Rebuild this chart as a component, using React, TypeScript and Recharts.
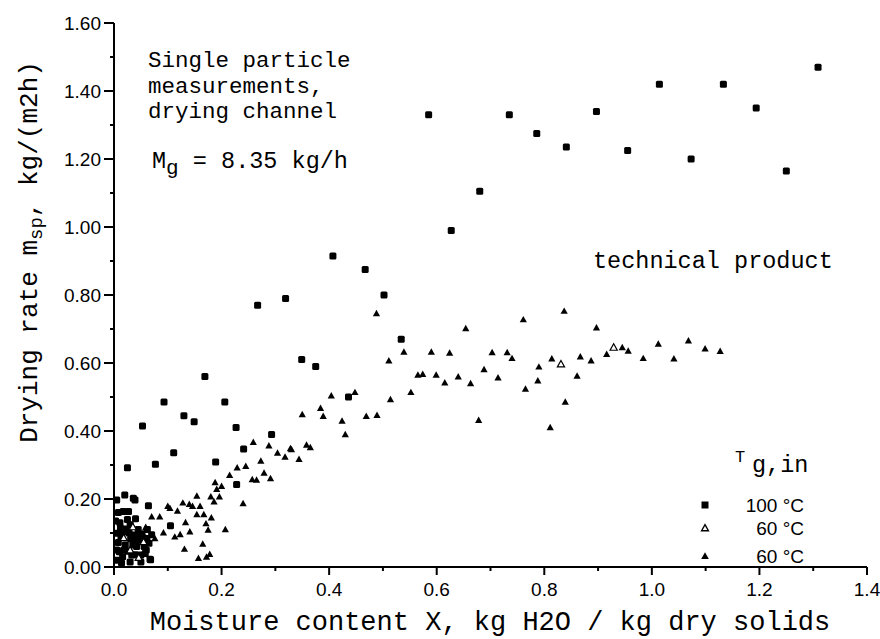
import { Scatter, ScatterChart, XAxis, YAxis } from "recharts";

// tick positions (labels only on the even ones)
const xTicks = [0, 0.1, 0.2, 0.3, 0.4, 0.5, 0.6, 0.7, 0.8, 0.9, 1.0, 1.1, 1.2, 1.3, 1.4];
const yTicks = [0, 0.1, 0.2, 0.3, 0.4, 0.5, 0.6, 0.7, 0.8, 0.9, 1.0, 1.1, 1.2, 1.3, 1.4, 1.5, 1.6];

// T g,in = 100 °C (filled squares)
const hot100: [number, number][] = [
  [0.585, 1.33], [0.627, 0.99], [0.68, 1.105], [0.735, 1.33], [0.786, 1.275],
  [0.841, 1.235], [0.897, 1.34], [0.955, 1.225], [1.014, 1.42], [1.073, 1.2],
  [1.133, 1.42], [1.194, 1.35], [1.25, 1.165], [1.309, 1.47],
  [0.407, 0.915], [0.467, 0.875], [0.502, 0.8], [0.534, 0.67], [0.319, 0.79],
  [0.267, 0.77], [0.349, 0.61], [0.375, 0.59], [0.169, 0.56], [0.093, 0.485],
  [0.206, 0.485], [0.13, 0.445], [0.149, 0.427], [0.053, 0.415], [0.227, 0.41],
  [0.293, 0.39], [0.436, 0.5], [0.241, 0.347], [0.111, 0.336], [0.025, 0.292],
  [0.077, 0.302], [0.189, 0.309], [0.228, 0.243], [0.064, 0.18], [0.105, 0.121],
  [0.068, 0.021],
  // dense cluster near the origin
  [0.02, 0.212], [0.036, 0.202], [0.005, 0.197], [0.039, 0.197], [0.017, 0.163],
  [0.027, 0.163], [0.011, 0.13], [0.03, 0.124], [0.005, 0.099], [0.017, 0.104],
  [0.048, 0.079], [0.061, 0.084], [0.042, 0.06], [0.067, 0.023], [0.005, 0.02],
  [0.01, 0.045], [0.016, 0.03], [0.021, 0.065], [0.026, 0.046], [0.031, 0.082],
  [0.036, 0.094], [0.04, 0.036], [0.008, 0.072], [0.013, 0.088], [0.022, 0.112],
  [0.045, 0.11], [0.052, 0.098], [0.056, 0.06], [0.03, 0.015], [0.05, 0.035],
  [0.06, 0.05], [0.014, 0.012], [0.04, 0.142], [0.008, 0.16], [0.025, 0.14],
  [0.005, 0.05], [0.045, 0.09], [0.055, 0.085], [0.035, 0.065], [0.028, 0.1],
  [0.018, 0.05], [0.05, 0.015], [0.058, 0.04], [0.065, 0.07], [0.07, 0.095],
  [0.04, 0.075], [0.012, 0.115], [0.003, 0.135], [0.062, 0.11], [0.033, 0.035],
];

// T g,in = 60 °C (open triangles)
const warm60open: [number, number][] = [
  [0.03, 0.05], [0.046, 0.028], [0.055, 0.074], [0.018, 0.086], [0.035, 0.118],
  [0.831, 0.597], [0.929, 0.646],
];

// T g,in = 60 °C (filled triangles)
const warm60: [number, number][] = [
  [0.488, 0.746], [0.654, 0.702], [0.761, 0.728], [0.837, 0.753], [0.897, 0.704],
  [0.539, 0.633], [0.59, 0.633], [0.624, 0.63], [0.703, 0.631], [0.731, 0.631],
  [0.74, 0.614], [0.511, 0.607], [0.688, 0.581], [0.565, 0.565], [0.574, 0.567],
  [0.599, 0.565], [0.64, 0.56], [0.714, 0.557], [0.788, 0.548], [0.615, 0.542],
  [0.663, 0.54], [0.765, 0.524], [0.448, 0.514], [0.404, 0.504], [0.552, 0.514],
  [0.514, 0.493], [0.384, 0.467], [0.35, 0.449], [0.389, 0.444], [0.424, 0.43],
  [0.469, 0.444], [0.489, 0.447], [0.678, 0.432], [0.79, 0.589], [0.814, 0.613],
  [0.867, 0.619], [0.887, 0.607], [0.916, 0.626], [0.945, 0.646], [0.956, 0.636],
  [0.984, 0.614], [1.012, 0.656], [1.041, 0.613], [1.068, 0.666], [1.099, 0.642],
  [1.127, 0.635], [0.861, 0.562], [0.839, 0.486], [0.811, 0.411], [0.43, 0.39],
  [0.259, 0.367], [0.288, 0.357], [0.328, 0.349], [0.358, 0.359], [0.365, 0.352],
  [0.304, 0.336], [0.318, 0.324], [0.33, 0.346], [0.344, 0.317], [0.273, 0.312],
  [0.245, 0.297], [0.229, 0.292], [0.215, 0.27], [0.257, 0.258], [0.265, 0.256],
  [0.279, 0.277], [0.291, 0.261], [0.188, 0.249], [0.191, 0.229], [0.2, 0.238],
  [0.18, 0.207], [0.186, 0.192], [0.196, 0.207], [0.154, 0.209], [0.16, 0.179],
  [0.24, 0.187], [0.207, 0.111], [0.128, 0.189], [0.14, 0.185], [0.146, 0.179],
  [0.1, 0.179], [0.104, 0.173], [0.118, 0.165], [0.07, 0.148], [0.085, 0.148],
  [0.154, 0.155], [0.167, 0.155], [0.181, 0.145], [0.133, 0.131], [0.171, 0.128],
  [0.059, 0.117], [0.175, 0.109], [0.092, 0.101], [0.123, 0.096], [0.141, 0.104],
  [0.076, 0.084], [0.113, 0.089], [0.131, 0.053], [0.165, 0.068], [0.157, 0.026],
  [0.172, 0.03], [0.178, 0.038],
];

const toPts = (arr: [number, number][]) => arr.map(([x, y]) => ({ x, y }));

const INK = "#000";
const SANS = "'Liberation Sans', Arial, sans-serif";
const MONO = "'Liberation Mono', 'Courier New', monospace";

const isMajor = (v: number) => Math.round(v * 10) % 2 === 0;

function SquareDot(p: any) {
  const { cx, cy } = p;
  return <rect x={cx - 3.5} y={cy - 3.5} width={7} height={7} rx={1.5} fill={INK} />;
}

function triPath(cx: number, cy: number, s: number) {
  return `M${cx},${cy - s} L${cx + s},${cy + s * 0.8} L${cx - s},${cy + s * 0.8} Z`;
}

function TriDot(p: any) {
  return <path d={triPath(p.cx, p.cy, 3.6)} fill={INK} />;
}

function OpenTriDot(p: any) {
  return <path d={triPath(p.cx, p.cy, 3.6)} fill="#fff" stroke={INK} strokeWidth={1.2} />;
}

function LeftTick({ x, y, payload }: any) {
  const major = isMajor(payload.value);
  return (
    <g>
      <line x1={x - (major ? 10 : 4)} x2={x} y1={y} y2={y} stroke={INK} strokeWidth={2} />
      {major && (
        <text x={x - 13} y={y} dy={6.5} textAnchor="end" fontSize={19} fontFamily={SANS} fill={INK}>
          {payload.value.toFixed(2)}
        </text>
      )}
    </g>
  );
}

function BottomTick({ x, y, payload }: any) {
  const major = isMajor(payload.value);
  return (
    <g>
      <line x1={x} x2={x} y1={y} y2={y + (major ? 8 : 4)} stroke={INK} strokeWidth={2} />
      {major && (
        <text x={x} y={y + 29} textAnchor="middle" fontSize={19} fontFamily={SANS} fill={INK}>
          {payload.value.toFixed(1)}
        </text>
      )}
    </g>
  );
}

function TopTick({ x, y, payload }: any) {
  const major = isMajor(payload.value);
  return <line x1={x} x2={x} y1={y} y2={y + (major ? 8 : 4)} stroke={INK} strokeWidth={2} />;
}

function RightTick({ x, y, payload }: any) {
  const major = isMajor(payload.value);
  return <line x1={x - (major ? 8 : 4)} x2={x} y1={y} y2={y} stroke={INK} strokeWidth={2} />;
}

export default function App() {
  const axisLine = { stroke: INK, strokeWidth: 2 };
  return (
    <div style={{ position: "absolute", left: 0, top: 0, width: 880, height: 639, background: "#fff" }}>
      <ScatterChart width={880} height={639} margin={{ top: 23, right: 13, bottom: 0, left: 0 }}>
        <XAxis
          xAxisId={0}
          type="number"
          dataKey="x"
          domain={[0, 1.4]}
          ticks={xTicks}
          interval={0}
          height={72}
          tickSize={0}
          tickMargin={0}
          tickLine={false}
          axisLine={axisLine}
          tick={<BottomTick />}
          allowDataOverflow
        />
        <XAxis
          xAxisId="top"
          orientation="top"
          type="number"
          domain={[0, 1.4]}
          ticks={xTicks}
          interval={0}
          height={0}
          tickSize={0}
          tickMargin={0}
          tickLine={false}
          axisLine={axisLine}
          tick={<TopTick />}
          allowDataOverflow
        />
        <YAxis
          yAxisId={0}
          type="number"
          dataKey="y"
          domain={[0, 1.6]}
          ticks={yTicks}
          interval={0}
          width={114}
          tickSize={0}
          tickMargin={0}
          tickLine={false}
          axisLine={axisLine}
          tick={<LeftTick />}
          allowDataOverflow
        />
        <YAxis
          yAxisId="right"
          orientation="right"
          type="number"
          domain={[0, 1.6]}
          ticks={yTicks}
          interval={0}
          width={0}
          tickSize={0}
          tickMargin={0}
          tickLine={false}
          axisLine={axisLine}
          tick={<RightTick />}
          allowDataOverflow
        />
        <Scatter data={toPts(warm60)} shape={TriDot} isAnimationActive={false} />
        <Scatter data={toPts(hot100)} shape={SquareDot} isAnimationActive={false} />
        <Scatter data={toPts(warm60open)} shape={OpenTriDot} isAnimationActive={false} />
      </ScatterChart>

      <svg
        width={880}
        height={639}
        style={{ position: "absolute", left: 0, top: 0, pointerEvents: "none" }}
      >
        <g fontFamily={MONO} fontSize={22.5} fill={INK}>
          <text x={148} y={67}>Single particle</text>
          <text x={148} y={92.5}>measurements,</text>
          <text x={148} y={118}>drying channel</text>
        </g>
        <g fontFamily={MONO} fontSize={23.5} fill={INK}>
          <text x={152} y={168}>
            M<tspan dy={6} fontSize={21}>g</tspan>
            <tspan dy={-6}> = 8.35 kg/h</tspan>
          </text>
          <text x={593} y={268}>technical product</text>
        </g>

        {/* axis titles */}
        <text x={490} y={630} textAnchor="middle" fontFamily={MONO} fontSize={27} fill={INK}>
          Moisture content X, kg H2O / kg dry solids
        </text>
        <text
          transform="translate(37,252) rotate(-90)"
          textAnchor="middle"
          fontFamily={MONO}
          fontSize={26}
          fill={INK}
        >
          Drying rate m<tspan dy={5} fontSize={19}>sp</tspan>
          <tspan dy={-5}>, kg/(m2h)</tspan>
        </text>

        {/* legend */}
        <text x={735} y={462} fontFamily={MONO} fontSize={17} fill={INK}>T</text>
        <text x={752} y={472} fontFamily={MONO} fontSize={23.5} fill={INK}>g,in</text>
        <rect x={701.5} y={501.5} width={7} height={7} fill={INK} />
        <path d={triPath(705, 528, 3.4)} fill="#fff" stroke={INK} strokeWidth={1.4} />
        <path d={triPath(705, 556, 3.8)} fill={INK} />
        <g fontFamily={SANS} fontSize={19} fill={INK} textAnchor="end">
          <text x={804} y={512}>100 °C</text>
          <text x={804} y={535}>60 °C</text>
          <text x={804} y={563}>60 °C</text>
        </g>
      </svg>
    </div>
  );
}
